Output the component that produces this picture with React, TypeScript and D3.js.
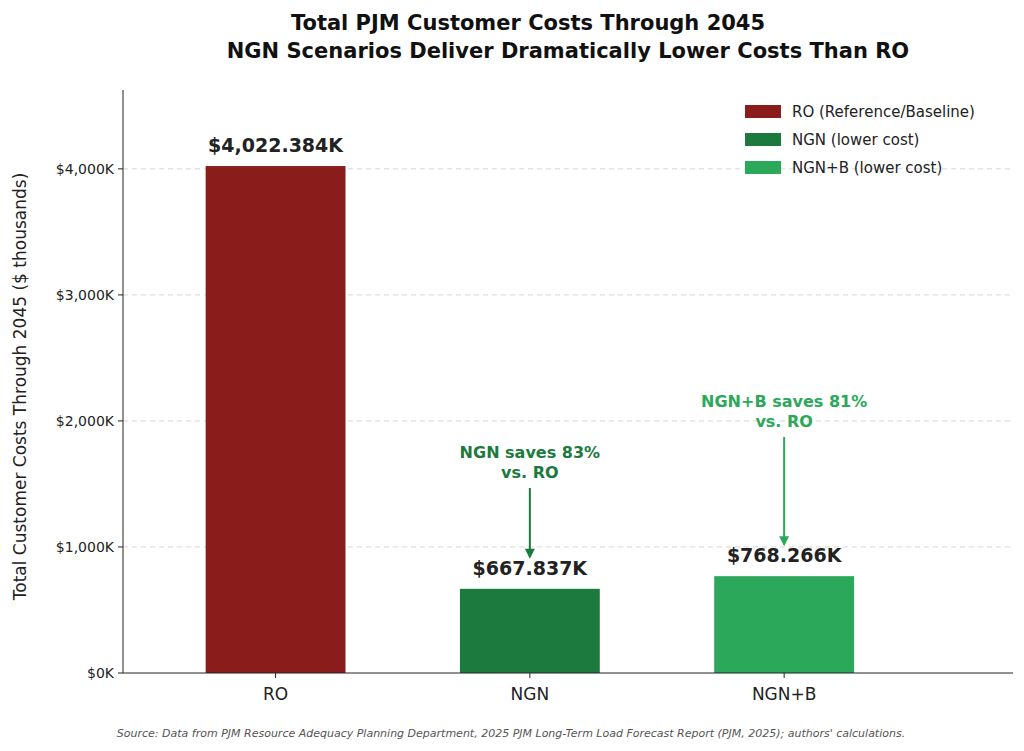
import React from "react";
import * as d3 from "d3";

const categories = ["RO", "NGN", "NGN+B"];
const values = [4022384, 667837, 768266];
const colors = ["#8B1C1C", "#1C7A3E", "#2BA85A"];
const legendLabels = ["RO (Reference/Baseline)", "NGN (lower cost)", "NGN+B (lower cost)"];
const yTicks = [0, 1000000, 2000000, 3000000, 4000000];
const savings = [null, "NGN saves 83%", "NGN+B saves 81%"];

export default function App() {
  const W = 1024, H = 751;
  const left = 123, right = 1013, top = 90, bottom = 673;
  const x = d3.scaleLinear().domain([-0.6, 2.9]).range([left, right]);
  const y = d3.scaleLinear().domain([0, 4022384 * 1.15]).range([bottom, top]);
  const bw = x(0.55) - x(0);
  const font = "DejaVu Sans, sans-serif";
  const fmt = (v: number) => "$" + d3.format(",")(v / 1000) + "K";
  const annTextY = [0, 453, 402];
  const arrowStart = [0, 488, 437];
  return (
    <svg width={W} height={H} style={{ position: "absolute", left: 0, top: 0, fontFamily: font }}>
      <rect width={W} height={H} fill="#fff" />
      <text x={528} y={30} textAnchor="middle" fontSize={21} fontWeight="bold" fill="#111">Total PJM Customer Costs Through 2045</text>
      <text x={568} y={58} textAnchor="middle" fontSize={21} fontWeight="bold" fill="#111">NGN Scenarios Deliver Dramatically Lower Costs Than RO</text>
      {yTicks.map(t => (
        <g key={t}>
          {t > 0 && <line x1={left} x2={right} y1={y(t)} y2={y(t)} stroke="#ccc" strokeDasharray="5,4" strokeWidth={0.8} />}
          <line x1={left - 5} x2={left} y1={y(t)} y2={y(t)} stroke="#222" />
          <text x={left - 9} y={y(t) + 5} textAnchor="end" fontSize={14} fill="#222">{fmt(t)}</text>
        </g>
      ))}
      <text transform={`translate(26,${(top + bottom) / 2 + 5}) rotate(-90)`} textAnchor="middle" fontSize={17} fill="#222">Total Customer Costs Through 2045 ($ thousands)</text>
      {categories.map((c, i) => (
        <g key={c}>
          <rect x={x(i) - bw / 2} y={y(values[i])} width={bw} height={bottom - y(values[i])} fill={colors[i]} />
          <text x={x(i)} y={y(values[i]) - 14} textAnchor="middle" fontSize={19} fontWeight="bold" fill="#222">{fmt(values[i])}</text>
          <line x1={x(i)} x2={x(i)} y1={bottom} y2={bottom + 5} stroke="#222" />
          <text x={x(i)} y={bottom + 27} textAnchor="middle" fontSize={17} fill="#222">{c}</text>
          {savings[i] && (
            <g fill={colors[i]} fontSize={16} fontWeight="bold" textAnchor="middle">
              <text x={x(i)} y={annTextY[i] + 5}>{savings[i]}</text>
              <text x={x(i)} y={annTextY[i] + 25}>vs. RO</text>
              <line x1={x(i)} x2={x(i)} y1={arrowStart[i]} y2={y(values[i]) - 32} stroke={colors[i]} strokeWidth={2} />
              <path d={`M${x(i) - 5},${y(values[i]) - 40} L${x(i)},${y(values[i]) - 30} L${x(i) + 5},${y(values[i]) - 40} Z`} />
            </g>
          )}
        </g>
      ))}
      <line x1={left} x2={left} y1={top} y2={bottom} stroke="#222" />
      <line x1={left} x2={right} y1={bottom} y2={bottom} stroke="#222" />
      {legendLabels.map((l, i) => (
        <g key={l}>
          <rect x={745} y={105 + i * 28} width={36} height={13} fill={colors[i]} />
          <text x={792} y={117 + i * 28} fontSize={15} fill="#222">{l}</text>
        </g>
      ))}
      <text x={511} y={737} textAnchor="middle" fontSize={11} fontStyle="italic" fill="#555">Source: Data from PJM Resource Adequacy Planning Department, 2025 PJM Long-Term Load Forecast Report (PJM, 2025); authors' calculations.</text>
    </svg>
  );
}
